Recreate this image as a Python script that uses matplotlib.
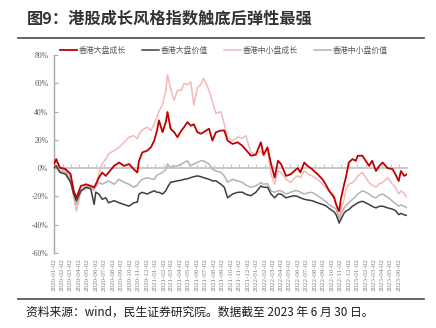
import matplotlib
matplotlib.use("Agg")
import matplotlib.pyplot as plt
from matplotlib.lines import Line2D
import pandas as pd

# ---- data: cumulative return (%) since 2020-01-02 ----
dates = [
    "2020-01-02", "2020-01-10", "2020-01-23", "2020-02-13", "2020-03-02", "2020-03-13",
    "2020-03-23", "2020-04-08", "2020-04-27", "2020-05-14", "2020-05-26", "2020-06-01",
    "2020-06-12", "2020-06-24", "2020-07-07", "2020-07-17", "2020-08-06", "2020-08-24",
    "2020-09-11", "2020-09-29", "2020-10-16", "2020-10-29", "2020-11-04", "2020-11-16",
    "2020-12-04", "2020-12-17", "2020-12-29", "2021-01-08", "2021-01-15", "2021-01-28",
    "2021-02-09", "2021-02-15", "2021-02-26", "2021-03-11", "2021-03-23", "2021-04-06",
    "2021-04-16", "2021-04-28", "2021-05-10", "2021-05-21", "2021-06-03", "2021-06-15",
    "2021-06-25", "2021-07-15", "2021-07-27", "2021-08-09", "2021-08-27", "2021-09-08",
    "2021-09-20", "2021-10-08", "2021-10-26", "2021-11-12", "2021-11-25", "2021-12-13",
    "2021-12-31", "2022-01-18", "2022-01-28", "2022-02-11", "2022-02-24", "2022-03-09",
    "2022-03-21", "2022-04-01", "2022-04-19", "2022-05-06", "2022-05-19", "2022-05-31",
    "2022-06-10", "2022-06-24", "2022-07-06", "2022-07-22", "2022-08-11", "2022-08-29",
    "2022-09-09", "2022-09-22", "2022-10-10", "2022-10-17", "2022-10-28", "2022-11-03",
    "2022-11-15", "2022-11-21", "2022-12-02", "2022-12-15", "2022-12-27", "2023-01-03",
    "2023-01-20", "2023-02-01", "2023-02-13", "2023-02-24", "2023-03-10", "2023-03-22",
    "2023-04-03", "2023-04-21", "2023-05-09", "2023-05-19", "2023-05-31", "2023-06-08",
    "2023-06-20", "2023-06-30",
]

large_growth = [
    3.0, 6.4, 0.4, -0.7, -4.3, -16, -21, -12.6, -11.4, -12.6, -13.5, -11.4,
    -6.7, -3.1, -5.5, -3.1, 1.6, 4.0, 1.6, 2.9, -0.7, -3.1, 5.2, 11.1,
    12.4, 14.7, 19.5, 26.6, 33.8, 25.4, 32.6, 39.7, 27.9, 25.4, 21.9, 26.6,
    29, 32.6, 30, 31, 25.4, 24.3, 25.4, 27.9, 19.5, 25.4, 26.6, 26.6,
    19.5, 17.1, 18.3, 15.9, 13, 8.8, 9.5, 18.3, 9.5, 14.7, 2.9, -6.7,
    5.2, 2.9, -5.5, -4.3, -2, 0, -3, 4, 1.6, -0.7, -4.3, -7.9,
    -11.4, -16, -21, -25.7, -30.5, -22, -11.4, -6.7, 4, 6.4, 5.2, 8.8,
    8.8, 5.2, 1.6, 5.2, -2, 1.6, 4, 0, -0.7, -4.3, -9.1, -2,
    -5.5, -4.3,
]

large_value = [
    0.4, 1.6, -3, -4.3, -10, -18.3, -23, -16, -13.5, -14.7, -25.7, -17,
    -18.3, -22, -21, -24.5, -23, -24.5, -25.7, -26.9, -24.5, -24, -18.3, -17.1,
    -18.3, -17, -16, -17.1, -17.1, -18.3, -16, -13.5, -10, -9.5, -9, -8.5,
    -7.9, -7.5, -6.7, -6, -5.5, -6, -6.7, -7.9, -9, -9, -11.4, -13.5,
    -21, -18.3, -17.1, -17, -18.5, -19.5, -17.1, -12.6, -13.5, -13.5, -18.3, -21,
    -18.3, -18.3, -21, -20, -19.5, -20, -21, -22, -22.5, -23, -24.5, -25.7,
    -26.5, -28.5, -31, -33, -38.8, -36.4, -31.7, -30.5, -29.3, -26.9, -25.5, -24.5,
    -23.4, -24.5, -25.7, -27, -28.1, -27, -26.9, -28.1, -29, -30, -32.9, -32,
    -33, -33.5,
]

small_growth = [
    1.6, 4.0, -0.7, -2, -6.7, -21, -30.5, -17, -14.7, -13.5, -16, -12,
    -4.3, 2.9, 6.4, 10, 12.4, 14.7, 18.3, 21.9, 23, 20.7, 24, 27,
    29, 26.6, 31.4, 36.2, 40, 45, 55, 65.9, 56.4, 48, 55, 55,
    60, 59, 61, 44.5, 57, 59, 63.6, 55, 47, 38.6, 40, 31,
    21.9, 19.5, 22, 21, 23, 11, 10, 12, 8.8, 13.5, -4.3, -11.4,
    -2, -3, -7.9, -10.2, -7, -5.5, -6.7, -2, -4, -5.5, -7.9, -11.4,
    -14, -16.5, -19, -25.7, -36.4, -29.3, -22, -15, -11.4, -10.2, -8, -5.5,
    -3, -6.7, -10.2, -12, -13.5, -11, -10.2, -6.7, -11.4, -13.5, -18.3, -16,
    -18, -21,
]

small_value = [
    0.4, 1.6, -2, -3, -9, -18, -25.7, -16, -12.6, -13.5, -14.7, -13,
    -10, -11.4, -10, -9, -11.4, -7.9, -10, -11.4, -13.5, -12, -10, -8,
    -6.7, -7.5, -7.9, -5, -4.3, -3, -1, 2.9, 0.4, 1.6, 1.6, 2.9,
    4, 5.2, 1.6, 3, 4, 5.2, 5.2, 2.9, -0.7, -2, -3, -5.5,
    -10, -7.9, -9, -10, -12, -13.5, -12.6, -10.2, -11.4, -11, -16, -17.1,
    -16, -16, -18.3, -17, -16, -16, -17, -18.3, -17.5, -17.1, -19.5, -22,
    -23.5, -26, -28, -29, -36.4, -32.9, -28.1, -26.5, -24.5, -22, -20, -18.3,
    -16, -17, -18.3, -20, -21, -19, -18.3, -20.5, -23.5, -25, -26.9, -26,
    -27, -28.1,
]

series_names = ["香港大盘成长", "香港大盘价值", "香港中小盘成长", "香港中小盘价值"]
y_ticks = [-60, -40, -20, 0, 20, 40, 60, 80]
x_ticks = pd.date_range("2020-01-01", "2023-06-01", freq="MS") + pd.Timedelta(days=1)

title_text = "图9：港股成长风格指数触底后弹性最强"
source_text = "资料来源：wind，民生证券研究院。数据截至 2023 年 6 月 30 日。"

# ---- figure ----
W, H = 436, 328
fig = plt.figure(figsize=(W / 100, H / 100), dpi=100)
fig.patch.set_facecolor("white")

ax = fig.add_axes([54 / W, 1 - 253 / H, (407 - 54) / W, (253 - 55) / H])
t = pd.to_datetime(dates)

cjk = ["Noto Sans CJK SC", "DejaVu Sans"]

# background series first, main series on top
ax.plot(t, small_growth, color="#f3b9b9", lw=1.1, label=series_names[2], zorder=2)
ax.plot(t, small_value, color="#b3b3b3", lw=1.1, label=series_names[3], zorder=3)
ax.plot(t, large_value, color="#3f3f3f", lw=1.1, label=series_names[1], zorder=4)
ax.plot(t, large_growth, color="#c00000", lw=1.3, label=series_names[0], zorder=5)

ax.set_xlim(pd.Timestamp("2020-01-02"), pd.Timestamp("2023-06-30"))
ax.set_ylim(-60, 80)

ax.set_yticks(y_ticks)
ax.set_yticklabels([f"{v}%" for v in y_ticks], fontfamily="Liberation Serif",
                   fontsize=5.6, color="#595959")
ax.tick_params(axis="y", direction="in", length=3, width=0.8, color="#a6a6a6", pad=4)

ax.set_xticks(x_ticks)
ax.set_xticklabels([d.strftime("%Y-%m-%d") for d in x_ticks], rotation=90,
                   fontfamily="Liberation Serif", fontsize=5.0, color="#7f7f7f")
ax.tick_params(axis="x", length=0, pad=4)

for s in ("top", "right", "bottom"):
    ax.spines[s].set_visible(False)
ax.spines["left"].set_color("#a6a6a6")
ax.spines["left"].set_linewidth(1.0)

# zero line carrying small upward ticks
zero_frac = (0 - (-60)) / (80 - (-60))
sec = ax.secondary_xaxis(zero_frac)
sec.set_xticks(x_ticks)
sec.set_xticklabels([])
sec.tick_params(direction="in", length=3, width=0.8, color="#c8c8c8")
sec.spines["bottom"].set_color("#c8c8c8")
sec.spines["bottom"].set_linewidth(1.4)
sec.set_zorder(1)

# legend in the fixed series order
handles, labels = ax.get_legend_handles_labels()
order = [labels.index(n) for n in series_names]
fig.legend([handles[i] for i in order], [labels[i] for i in order],
           loc="center", bbox_to_anchor=(224 / W, 1 - 50 / H), ncol=4,
           frameon=False, prop={"family": cjk, "size": 5.7},
           labelcolor="#595959", handlelength=2.1, handletextpad=0.3,
           columnspacing=2.0)

# title, rules and source note
fig.text(27 / W, 1 - 19 / H, title_text, fontfamily=cjk, fontsize=11.7,
         fontweight="bold", color="#333333", ha="left", va="center")
fig.add_artist(Line2D([18 / W, 424 / W], [1 - 38 / H, 1 - 38 / H],
                      color="#595959", lw=1.3, transform=fig.transFigure))
fig.add_artist(Line2D([18 / W, 424 / W], [1 - 299 / H, 1 - 299 / H],
                      color="#595959", lw=1.3, transform=fig.transFigure))
fig.text(26 / W, 1 - 312 / H, source_text, fontfamily=cjk, fontsize=8.5,
         color="#1a1a1a", ha="left", va="center")

fig.savefig("out.png", dpi=100, facecolor="white")
